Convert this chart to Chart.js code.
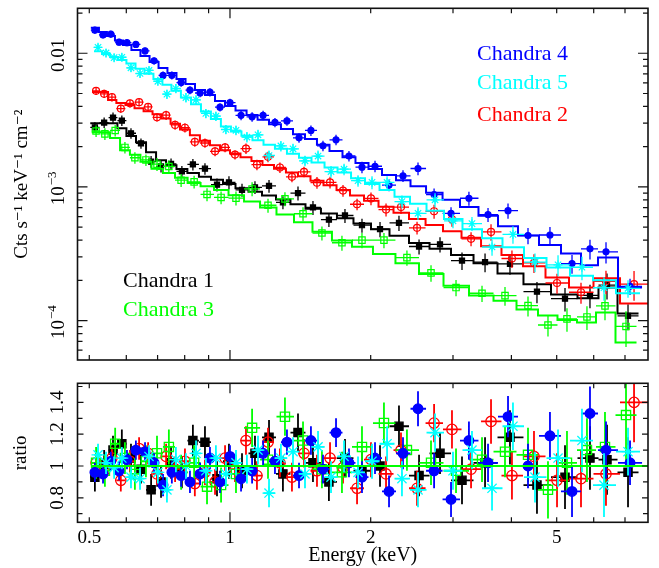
<!DOCTYPE html>
<html lang="en">
  <head>
    <meta charset="UTF-8" />
    <title>Chandra spectra</title>
    <style>
      body { margin: 0; background: #fff; }
      #wrap { position: relative; width: 659px; height: 568px; }
      canvas { position: absolute; left: 0; }
      #specChart { top: 0; }
      #ratioChart { top: 370px; }
    </style>
  </head>
  <body>
    <div id="wrap">
      <canvas id="specChart" width="659" height="370"></canvas>
      <canvas id="ratioChart" width="659" height="198"></canvas>
    </div>

    <script src="https://cdn.jsdelivr.net/npm/chart.js"></script>
    <script>
      // Chandra 1 (black)
      var c1Energy = [0.514,0.538,0.562,0.587,0.614,0.645,0.678,0.712,0.748,0.789,0.833,0.884,0.938,0.995,1.061,1.131,1.212,1.298,1.398,1.505,1.628,1.762,1.916,2.094,2.299,2.538,2.814,3.136,3.513,3.972,4.537,5.209,5.891,6.406,7.105];
      var c1Model = [3.00e-3,3.00e-3,3.00e-3,2.75e-3,2.40e-3,2.16e-3,1.82e-3,1.585e-3,1.455e-3,1.36e-3,1.27e-3,1.19e-3,1.13e-3,1.05e-3,9.79e-4,9.20e-4,8.62e-4,8.06e-4,7.43e-4,6.88e-4,6.33e-4,5.82e-4,5.33e-4,4.83e-4,4.31e-4,3.81e-4,3.44e-4,3.09e-4,2.68e-4,2.25e-4,1.87e-4,1.57e-4,1.47e-4,1.77e-4,1.13e-4];
      var c1Ratio = [0.93,1.01,1.10,1.14,1.05,0.98,0.85,0.90,1.02,0.96,1.16,1.15,0.92,1.03,0.97,1.08,1.18,0.95,1.21,1.02,0.90,1.05,0.97,1.00,1.25,0.94,1.08,0.91,1.02,1.18,0.88,0.93,1.05,1.04,0.96];
      var c1Err = [0.09,0.09,0.09,0.09,0.09,0.09,0.1,0.1,0.1,0.1,0.1,0.1,0.11,0.11,0.11,0.11,0.11,0.11,0.12,0.12,0.12,0.12,0.12,0.13,0.13,0.13,0.13,0.15,0.16,0.17,0.18,0.2,0.2,0.22,0.22];

      // Chandra 2 (red)
      var c2Energy = [0.517,0.538,0.559,0.584,0.611,0.639,0.668,0.698,0.730,0.763,0.801,0.841,0.884,0.929,0.976,1.025,1.082,1.142,1.206,1.279,1.357,1.440,1.535,1.637,1.745,1.870,2.003,2.157,2.322,2.513,2.733,2.985,3.279,3.618,4.011,4.471,5.008,5.636,6.374,7.319];
      var c2Model = [5.13e-3,5.13e-3,4.47e-3,4.24e-3,4.10e-3,3.88e-3,3.68e-3,3.49e-3,3.25e-3,2.97e-3,2.69e-3,2.44e-3,2.22e-3,2.05e-3,1.88e-3,1.78e-3,1.67e-3,1.56e-3,1.46e-3,1.37e-3,1.28e-3,1.20e-3,1.11e-3,1.03e-3,9.48e-4,8.63e-4,7.88e-4,7.12e-4,6.42e-4,5.75e-4,5.18e-4,4.66e-4,4.17e-4,3.60e-4,3.10e-4,2.55e-4,2.10e-4,1.77e-4,2.07e-4,1.34e-4];
      var c2Ratio = [1.02,0.97,1.05,0.91,1.03,1.11,1.08,0.95,1.06,0.98,1.03,0.89,0.96,0.90,1.05,0.98,1.16,0.94,1.15,1.02,0.93,1.08,0.97,1.05,0.99,0.86,1.04,0.95,1.10,0.86,1.27,1.23,0.98,1.28,0.94,1.06,0.91,0.92,0.95,1.40];
      var c2Err = [0.07,0.07,0.07,0.07,0.07,0.07,0.07,0.07,0.08,0.08,0.08,0.08,0.08,0.08,0.08,0.08,0.09,0.09,0.09,0.09,0.09,0.09,0.1,0.1,0.1,0.1,0.11,0.11,0.11,0.11,0.12,0.12,0.12,0.14,0.15,0.16,0.17,0.18,0.2,0.25];

      // Chandra 3 (green)
      var c3Energy = [0.517,0.540,0.568,0.596,0.626,0.661,0.698,0.740,0.786,0.838,0.893,0.957,1.030,1.115,1.206,1.311,1.433,1.573,1.736,1.916,2.135,2.391,2.692,3.045,3.461,3.876,4.341,4.790,5.260,5.804,6.343,7.035];
      var c3Model = [2.57e-3,2.57e-3,2.32e-3,1.88e-3,1.74e-3,1.545e-3,1.37e-3,1.27e-3,1.17e-3,1.07e-3,1.01e-3,9.48e-4,8.68e-4,7.79e-4,7.01e-4,6.21e-4,5.43e-4,4.61e-4,3.98e-4,3.57e-4,3.15e-4,2.69e-4,2.23e-4,1.82e-4,1.54e-4,1.41e-4,1.21e-4,1.09e-4,1.01e-4,9.68e-5,1.15e-4,6.85e-5];
      var c3Ratio = [1.02,0.97,1.14,1.05,0.95,1.03,1.08,1.12,0.96,1.02,0.87,0.88,0.95,1.24,1.04,1.31,1.16,0.98,0.96,1.12,1.27,1.10,1.02,0.97,1.04,1.09,1.07,0.85,1.02,1.10,1.12,1.32];
      var c3Err = [0.1,0.1,0.1,0.1,0.1,0.1,0.11,0.11,0.11,0.11,0.11,0.11,0.12,0.12,0.12,0.12,0.12,0.12,0.13,0.13,0.13,0.13,0.14,0.14,0.14,0.16,0.17,0.18,0.2,0.2,0.22,0.3];

      // Chandra 4 (blue)
      var c4Energy = [0.514,0.535,0.556,0.579,0.602,0.629,0.658,0.688,0.719,0.751,0.786,0.821,0.863,0.906,0.952,1.000,1.056,1.115,1.177,1.248,1.324,1.405,1.490,1.581,1.686,1.797,1.916,2.043,2.189,2.345,2.525,2.733,2.971,3.245,3.565,3.934,4.341,4.837,5.392,5.891,6.375,7.176];
      var c4Model = [1.55e-2,1.445e-2,1.349e-2,1.248e-2,1.154e-2,1.059e-2,9.55e-3,8.61e-3,7.76e-3,7.12e-3,6.42e-3,5.89e-3,5.31e-3,4.87e-3,4.39e-3,4.03e-3,3.73e-3,3.45e-3,3.18e-3,2.95e-3,2.71e-3,2.48e-3,2.28e-3,2.07e-3,1.86e-3,1.67e-3,1.51e-3,1.36e-3,1.23e-3,1.12e-3,1.01e-3,9.03e-4,8.03e-4,7.09e-4,6.08e-4,5.07e-4,4.33e-4,3.67e-4,3.18e-4,2.59e-4,2.97e-4,1.77e-4];
      var c4Ratio = [0.96,0.95,1.03,0.97,1.04,1.10,1.09,1.02,0.88,0.96,0.94,0.90,0.95,1.05,0.90,1.06,0.92,0.97,1.08,1.03,1.15,0.94,1.16,0.98,1.21,1.02,0.93,1.05,0.84,1.08,1.36,0.97,0.79,1.16,1.02,1.31,1.00,1.19,0.84,1.33,1.10,1.02];
      var c4Err = [0.06,0.06,0.06,0.06,0.06,0.06,0.06,0.06,0.07,0.07,0.07,0.07,0.07,0.07,0.07,0.07,0.08,0.08,0.08,0.08,0.08,0.08,0.09,0.09,0.09,0.09,0.1,0.1,0.1,0.1,0.11,0.11,0.11,0.12,0.12,0.13,0.14,0.15,0.16,0.17,0.18,0.14];

      // Chandra 5 (cyan)
      var c5Energy = [0.522,0.543,0.565,0.587,0.614,0.642,0.671,0.701,0.733,0.766,0.805,0.846,0.888,0.933,0.980,1.030,1.087,1.148,1.212,1.285,1.364,1.447,1.543,1.645,1.754,1.879,2.013,2.168,2.333,2.525,2.746,3.000,3.294,3.636,4.031,4.493,5.033,5.663,6.312,7.105];
      var c5Model = [1.035e-2,9.86e-3,9.37e-3,8.89e-3,8.37e-3,7.67e-3,7.02e-3,6.43e-3,5.81e-3,5.24e-3,4.66e-3,4.15e-3,3.66e-3,3.22e-3,2.83e-3,2.60e-3,2.41e-3,2.23e-3,2.07e-3,1.93e-3,1.77e-3,1.65e-3,1.52e-3,1.40e-3,1.28e-3,1.16e-3,1.05e-3,9.48e-4,8.44e-4,7.47e-4,6.62e-4,5.75e-4,4.83e-4,4.13e-4,3.53e-4,2.94e-4,2.49e-4,2.16e-4,2.00e-4,1.60e-4];
      var c5Ratio = [1.07,1.02,0.99,1.05,0.93,0.92,1.06,0.96,0.85,1.04,1.00,1.08,0.97,1.05,0.95,1.02,0.98,1.10,0.83,1.05,1.09,0.95,1.12,0.93,1.06,0.96,1.03,1.14,0.92,0.85,1.21,0.97,1.10,0.86,1.25,0.93,1.05,1.16,0.88,1.09];
      var c5Err = [0.07,0.07,0.07,0.07,0.07,0.07,0.07,0.07,0.08,0.08,0.08,0.08,0.08,0.08,0.08,0.08,0.09,0.09,0.09,0.09,0.09,0.09,0.1,0.1,0.1,0.1,0.11,0.11,0.11,0.11,0.12,0.12,0.12,0.14,0.15,0.16,0.18,0.2,0.2,0.15];

      // axes
      var energyRange = [0.4718, 7.84];
      var fluxRange = [5.07e-5, 0.0217];
      var ratioRange = [0.646, 1.52];
      var unityLineE = [0.505, 7.84];
      var unityRatio = 1;
      var xTickLabels = [0.5, 1, 2, 5];
      var xMajorTicks = [1];
      var xMinorTicks = [0.5, 0.6, 0.7, 0.8, 0.9, 2, 3, 4, 5, 6, 7];
      var fluxMajorTicks = [1e-4, 1e-3, 1e-2];
      var fluxMinorTicks = [6e-5, 7e-5, 8e-5, 9e-5, 2e-4, 3e-4, 4e-4, 5e-4, 6e-4, 7e-4, 8e-4, 9e-4,
        2e-3, 3e-3, 4e-3, 5e-3, 6e-3, 7e-3, 8e-3, 9e-3, 2e-2];
      var fluxTickText = [["10", "\u22124"], ["10", "\u22123"], ["0.01", ""]];
      var ratioMajorTicks = [0.8, 1, 1.2, 1.4];
      var ratioMinorTicks = [0.7, 0.9, 1.1, 1.3, 1.5];
      var ratioTickText = [["0.8", ""], ["1", ""], ["1.2", ""], ["1.4", ""]];

      var SERIF = '"Liberation Serif", "DejaVu Serif", serif';
      Chart.defaults.font.family = SERIF;
      Chart.defaults.color = "#000";

      function binEdges(e) {
        return e.map(function (v, i) {
          var lo = i > 0 ? Math.sqrt(e[i - 1] * v) : (v * v) / Math.sqrt(v * e[i + 1]);
          var hi = i < e.length - 1 ? Math.sqrt(v * e[i + 1]) : (v * v) / Math.sqrt(e[i - 1] * v);
          return [lo, hi];
        });
      }

      function rotLabel(ctx, x, y, main, sup) {
        ctx.save();
        ctx.translate(x, y);
        ctx.rotate(-Math.PI / 2);
        ctx.textAlign = "left";
        ctx.textBaseline = "alphabetic";
        ctx.font = "19px " + SERIF;
        var w1 = ctx.measureText(main).width;
        var w2 = 0;
        if (sup) {
          ctx.font = "13px " + SERIF;
          w2 = ctx.measureText(sup).width;
        }
        var start = -(w1 + w2) / 2;
        ctx.font = "19px " + SERIF;
        ctx.fillText(main, start, 0);
        if (sup) {
          ctx.font = "13px " + SERIF;
          ctx.fillText(sup, start + w1 + 1, -8);
        }
        ctx.restore();
      }

      var errorBars = {
        id: "errorBars",
        beforeDatasetDraw: function (chart, args) {
          var ds = chart.data.datasets[args.index];
          if (!ds.errBars) return;
          var ctx = chart.ctx, a = chart.chartArea;
          var sx = chart.scales.x, sy = chart.scales.y;
          ctx.save();
          ctx.beginPath();
          ctx.rect(a.left, a.top, a.right - a.left, a.bottom - a.top);
          ctx.clip();
          ctx.strokeStyle = ds.errColor;
          ctx.lineWidth = ds.errWidth;
          ctx.beginPath();
          ds.errBars.forEach(function (b) {
            var px = sx.getPixelForValue(b.x);
            var py = sy.getPixelForValue(b.y);
            ctx.moveTo(px, sy.getPixelForValue(b.lo));
            ctx.lineTo(px, sy.getPixelForValue(b.hi));
            ctx.moveTo(sx.getPixelForValue(b.xlo), py);
            ctx.lineTo(sx.getPixelForValue(b.xhi), py);
          });
          ctx.stroke();
          ctx.restore();
        },
      };

      function axisDeco(cfg) {
        return {
          id: "axisDeco",
          afterDraw: function (chart) {
            var ctx = chart.ctx, a = chart.chartArea;
            var sx = chart.scales.x, sy = chart.scales.y;
            ctx.save();
            ctx.strokeStyle = "#111";
            ctx.lineWidth = 1.2;
            ctx.beginPath();
            function xt(v, len) {
              var p = sx.getPixelForValue(v);
              ctx.moveTo(p, a.bottom); ctx.lineTo(p, a.bottom - len);
              ctx.moveTo(p, a.top); ctx.lineTo(p, a.top + len);
            }
            function yt(v, len) {
              var p = sy.getPixelForValue(v);
              ctx.moveTo(a.left, p); ctx.lineTo(a.left + len, p);
              ctx.moveTo(a.right, p); ctx.lineTo(a.right - len, p);
            }
            xMajorTicks.forEach(function (v) { xt(v, 10); });
            xMinorTicks.forEach(function (v) { xt(v, 5); });
            cfg.yMajor.forEach(function (v) { yt(v, cfg.yMajorLen); });
            cfg.yMinor.forEach(function (v) { yt(v, 5); });
            ctx.stroke();
            ctx.lineWidth = 1.6;
            ctx.strokeRect(a.left, a.top, a.right - a.left, a.bottom - a.top);
            ctx.fillStyle = "#000";
            cfg.yMajor.forEach(function (v, i) {
              var t = cfg.yText[i];
              rotLabel(ctx, cfg.labelX, sy.getPixelForValue(v) + cfg.labelShift, t[0], t[1]);
            });
            ctx.font = "22px " + SERIF;
            ctx.textAlign = "left";
            ctx.textBaseline = "alphabetic";
            (cfg.texts || []).forEach(function (t) {
              ctx.fillStyle = t.color;
              ctx.fillText(t.text, t.x, t.y);
            });
            ctx.restore();
          },
        };
      }

      var groups = [
        { e: c5Energy, m: c5Model, r: c5Ratio, s: c5Err, color: "#00ffff", style: "star", filled: false, rTop: 4.5, rRatio: 6.5 },
        { e: c4Energy, m: c4Model, r: c4Ratio, s: c4Err, color: "#0000ff", style: "circle", filled: true, rTop: 3, rRatio: 4.8 },
        { e: c3Energy, m: c3Model, r: c3Ratio, s: c3Err, color: "#00ff00", style: "rect", filled: false, rTop: 4.5, rRatio: 6.5 },
        { e: c2Energy, m: c2Model, r: c2Ratio, s: c2Err, color: "#ff0000", style: "circle", filled: false, rTop: 3.5, rRatio: 5.2 },
        { e: c1Energy, m: c1Model, r: c1Ratio, s: c1Err, color: "#000000", style: "rect", filled: true, rTop: 3.6, rRatio: 5.8 },
      ];

      var specSets = [];
      var ratioSets = [
        {
          type: "line",
          data: unityLineE.map(function (x) { return { x: x, y: unityRatio }; }),
          borderColor: "#00ff00", borderWidth: 2, pointRadius: 0, fill: false, order: -1,
        },
      ];
      groups.forEach(function (g, k) {
        var edges = binEdges(g.e);
        var fill = g.filled ? g.color : "rgba(0,0,0,0)";
        var steps = [];
        g.m.forEach(function (v, i) {
          steps.push({ x: edges[i][0], y: v });
          steps.push({ x: edges[i][1], y: v });
        });
        specSets.push({
          type: "line",
          data: steps,
          borderColor: g.color, borderWidth: 2, pointRadius: 0, fill: false, order: 2 * k,
        });
        specSets.push({
          type: "scatter",
          data: g.e.map(function (x, i) { return { x: x, y: g.m[i] * g.r[i] }; }),
          pointStyle: g.style, pointRadius: g.rTop, pointBorderColor: g.color,
          pointBackgroundColor: fill, pointBorderWidth: 1.2,
          errColor: g.color, errWidth: 1.3,
          errBars: g.e.map(function (x, i) {
            var d = g.m[i] * g.r[i];
            return { x: x, y: d, lo: d * (1 - g.s[i]), hi: d * (1 + g.s[i]), xlo: edges[i][0], xhi: edges[i][1] };
          }),
          order: 2 * k + 1,
        });
        ratioSets.push({
          type: "scatter",
          data: g.e.map(function (x, i) { return { x: x, y: g.r[i] }; }),
          pointStyle: g.style, pointRadius: g.rRatio, pointBorderColor: g.color,
          pointBackgroundColor: fill, pointBorderWidth: 1.3,
          errColor: g.color, errWidth: 1.8,
          errBars: g.e.map(function (x, i) {
            return { x: x, y: g.r[i], lo: g.r[i] - g.s[i], hi: g.r[i] + g.s[i], xlo: edges[i][0], xhi: edges[i][1] };
          }),
          order: k,
        });
      });

      var common = {
        responsive: false,
        animation: false,
        devicePixelRatio: 1,
        events: [],
        plugins: { legend: { display: false }, tooltip: { enabled: false } },
      };

      new Chart(document.getElementById("specChart"), {
        type: "scatter",
        data: { datasets: specSets },
        options: Object.assign({}, common, {
          layout: { padding: { top: 8.3, right: 11, bottom: 10, left: 0 } },
          scales: {
            x: { type: "logarithmic", min: energyRange[0], max: energyRange[1], bounds: "data", display: false },
            y: {
              type: "logarithmic", min: fluxRange[0], max: fluxRange[1], bounds: "data",
              ticks: { display: false }, grid: { display: false, drawTicks: false }, border: { display: false },
              title: {
                display: true, text: "Cts s\u207B\u00B9 keV\u207B\u00B9 cm\u207B\u00B2",
                font: { size: 19, family: SERIF }, padding: { top: 11, bottom: 0 },
              },
              afterFit: function (s) { s.width = 77.5; },
            },
          },
        }),
        plugins: [errorBars, axisDeco({
          yMajor: fluxMajorTicks, yMinor: fluxMinorTicks, yMajorLen: 10, yText: fluxTickText,
          labelX: 64, labelShift: 2,
          texts: [
            { text: "Chandra 4", color: "#0000ff", x: 477, y: 60 },
            { text: "Chandra 5", color: "#00ffff", x: 477, y: 89 },
            { text: "Chandra 2", color: "#ff0000", x: 477, y: 121 },
            { text: "Chandra 1", color: "#000000", x: 123, y: 287 },
            { text: "Chandra 3", color: "#00ff00", x: 123, y: 316 },
          ],
        })],
      });

      new Chart(document.getElementById("ratioChart"), {
        type: "scatter",
        data: { datasets: ratioSets },
        options: Object.assign({}, common, {
          layout: { padding: { top: 13.3, right: 11, bottom: 0, left: 0 } },
          scales: {
            x: {
              type: "logarithmic", min: energyRange[0], max: energyRange[1], bounds: "data",
              grid: { display: false, drawTicks: false }, border: { display: false },
              afterBuildTicks: function (s) { s.ticks = xTickLabels.map(function (v) { return { value: v }; }); },
              ticks: {
                autoSkip: false, maxRotation: 0, padding: 4, font: { size: 19, family: SERIF },
                callback: function (v) { return String(v); },
              },
              title: { display: true, text: "Energy (keV)", font: { size: 20, family: SERIF }, padding: { top: 0, bottom: 0 } },
              afterFit: function (s) { s.height = 45.7; },
            },
            y: {
              type: "linear", min: ratioRange[0], max: ratioRange[1],
              ticks: { display: false }, grid: { display: false, drawTicks: false }, border: { display: false },
              title: { display: true, text: "ratio", font: { size: 19, family: SERIF }, padding: { top: 10, bottom: 0 } },
              afterFit: function (s) { s.width = 77.5; },
            },
          },
        }),
        plugins: [errorBars, axisDeco({
          yMajor: ratioMajorTicks, yMinor: ratioMinorTicks, yMajorLen: 6, yText: ratioTickText,
          labelX: 63, labelShift: 0,
        })],
      });
    </script>
  </body>
</html>
